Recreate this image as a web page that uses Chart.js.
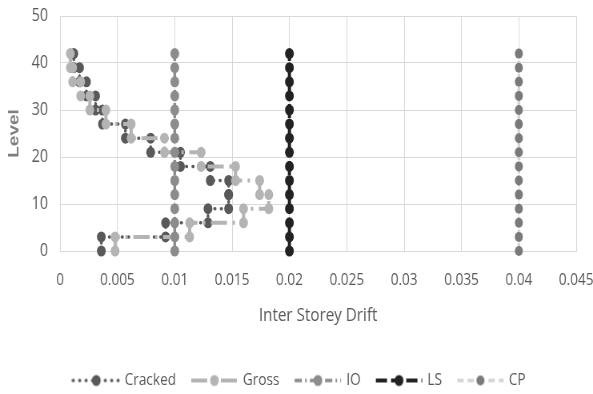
<!DOCTYPE html>
<html>
<head>
<meta charset="utf-8">
<script src="https://cdn.jsdelivr.net/npm/chart.js@4"></script>
<style>
  html, body { margin: 0; background: #fff; overflow: hidden; }
  /* the original picture is squeezed sideways: draw wide, show at 593px */
  #chart { display: block; width: 593px; height: 394px; }
</style>
</head>
<body>
<canvas id="chart" width="741" height="394" style="width:593px;height:394px"></canvas>
<script>
// storey levels (floor elevations used as the y value)
const levels = [0, 3, 6, 9, 12, 15, 18, 21, 24, 27, 30, 33, 36, 39, 42];

// inter storey drift for each storey (level i -> level i+1)
const crackedDrift = [0.0036, 0.0092, 0.0129, 0.0147, 0.0147, 0.0131, 0.0105, 0.0079, 0.0057, 0.0037, 0.0031, 0.0023, 0.0017, 0.0012];
const grossDrift   = [0.0048, 0.0113, 0.0160, 0.0182, 0.0174, 0.0153, 0.0123, 0.0091, 0.0062, 0.0040, 0.0026, 0.0018, 0.0011, 0.0009];

// performance limits, one point per level
const ioDrift = [0.01, 0.01, 0.01, 0.01, 0.01, 0.01, 0.01, 0.01, 0.01, 0.01, 0.01, 0.01, 0.01, 0.01, 0.01];
const lsDrift = [0.02, 0.02, 0.02, 0.02, 0.02, 0.02, 0.02, 0.02, 0.02, 0.02, 0.02, 0.02, 0.02, 0.02, 0.02];
const cpDrift = [0.04, 0.04, 0.04, 0.04, 0.04, 0.04, 0.04, 0.04, 0.04, 0.04, 0.04, 0.04, 0.04, 0.04, 0.04];

const xTicks = [0, 0.005, 0.01, 0.015, 0.02, 0.025, 0.03, 0.035, 0.04, 0.045];
const yTicks = [0, 10, 20, 30, 40, 50];

const FONT = "'Open Sans', sans-serif";
const TEXT = '#595959';

// each storey drift is drawn as a vertical step from its floor to the next
function storeyProfile(drifts) {
  const pts = [];
  drifts.forEach((d, i) => {
    pts.push({ x: d, y: levels[i] });
    pts.push({ x: d, y: levels[i + 1] });
  });
  return pts;
}

function levelLine(drifts) {
  return drifts.map((d, i) => ({ x: d, y: levels[i] }));
}

const datasets = [
  {
    label: 'Cracked', data: storeyProfile(crackedDrift), order: 5,
    borderColor: '#595959', borderWidth: 3.5, borderDash: [0.5, 7.5], borderCapStyle: 'round',
    pointBackgroundColor: '#595959', pointRadius: 5.5
  },
  {
    label: 'Gross', data: storeyProfile(grossDrift), order: 4,
    borderColor: '#b4b4b4', borderWidth: 4, borderDash: [20, 7, 3, 7],
    pointBackgroundColor: '#b4b4b4', pointRadius: 5.5
  },
  {
    label: 'IO', data: levelLine(ioDrift), order: 3,
    borderColor: '#8c8c8c', borderWidth: 3.5, borderDash: [9, 4, 2, 4],
    pointBackgroundColor: '#8c8c8c', pointRadius: 5.5
  },
  {
    label: 'LS', data: levelLine(lsDrift), order: 2,
    borderColor: '#222222', borderWidth: 4, borderDash: [14, 5],
    pointBackgroundColor: '#222222', pointRadius: 5.5
  },
  {
    label: 'CP', data: levelLine(cpDrift), order: 1,
    borderColor: '#d4d4d4', borderWidth: 3.5, borderDash: [8, 5],
    pointBackgroundColor: '#7a7a7a', pointRadius: 5
  }
];
datasets.forEach(ds => {
  ds.showLine = true;
  ds.clip = false;
  ds.pointBorderColor = ds.pointBackgroundColor;
  ds.pointBorderWidth = 0;
  ds.pointHoverRadius = ds.pointRadius;
});

// little line + marker sample for the legend, like the spreadsheet legend
function legendIcon(ds) {
  const c = document.createElement('canvas');
  c.width = 62; c.height = 14;
  const g = c.getContext('2d');
  g.strokeStyle = ds.borderColor;
  g.lineWidth = ds.borderWidth;
  g.lineCap = ds.borderCapStyle || 'butt';
  g.setLineDash(ds.borderDash || []);
  g.beginPath(); g.moveTo(2, 7); g.lineTo(60, 7); g.stroke();
  g.setLineDash([]);
  g.fillStyle = ds.pointBackgroundColor;
  g.beginPath(); g.arc(31, 7, ds.pointRadius, 0, Math.PI * 2); g.fill();
  return c;
}

// the spreadsheet legend sits a little right of centre
const nudgeLegend = {
  id: 'nudgeLegend',
  afterLayout(chart) {
    chart.legend.left += 15;
    chart.legend.right += 15;
  }
};

new Chart(document.getElementById('chart'), {
  type: 'scatter',
  data: { datasets },
  plugins: [nudgeLegend],
  options: {
    responsive: false,
    animation: false,
    devicePixelRatio: 1,
    layout: { padding: { left: 0, right: 21, top: 16, bottom: -5 } },
    scales: {
      x: {
        type: 'linear', min: 0, max: 0.045,
        afterBuildTicks: s => { s.ticks = xTicks.map(v => ({ value: v })); },
        afterFit: s => { s.height = 100; s.paddingLeft = 0; s.paddingRight = 0; },
        grid: { color: '#d9d9d9', drawTicks: false },
        border: { color: '#d9d9d9' },
        ticks: {
          padding: 19, color: TEXT, font: { family: FONT, size: 17 },
          maxRotation: 0, autoSkip: false,
          callback: v => String(+v.toFixed(3))
        },
        title: {
          display: true, text: 'Inter Storey Drift', color: TEXT,
          font: { family: FONT, size: 19 }, padding: { top: 0, bottom: 24 }
        }
      },
      y: {
        type: 'linear', min: 0, max: 50,
        afterBuildTicks: s => { s.ticks = yTicks.map(v => ({ value: v })); },
        afterFit: s => { s.width = 75; s.paddingTop = 0; s.paddingBottom = 0; },
        grid: { color: '#d9d9d9', drawTicks: false },
        border: { color: '#d9d9d9' },
        ticks: { padding: 15, color: TEXT, font: { family: FONT, size: 18 } },
        title: {
          display: true, text: 'Level', color: '#7f7f7f',
          font: { family: "'Liberation Sans', sans-serif", size: 19, weight: 'bold' },
          padding: { top: 6, bottom: 0 }
        }
      }
    },
    plugins: {
      tooltip: { enabled: false },
      legend: {
        position: 'bottom',
        labels: {
          usePointStyle: true,
          pointStyleWidth: 54,
          padding: 21,
          color: TEXT,
          font: { family: FONT, size: 17 },
          generateLabels: chart => chart.data.datasets.map((ds, i) => ({
            text: ds.label,
            datasetIndex: i,
            pointStyle: legendIcon(ds),
            fontColor: TEXT,
            lineWidth: 0,
            hidden: false
          }))
        }
      }
    }
  }
});
</script>
</body>
</html>
